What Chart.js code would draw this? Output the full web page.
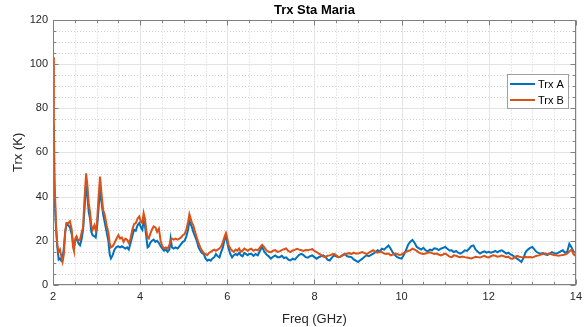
<!DOCTYPE html>
<html>
<head>
<meta charset="utf-8">
<script src="https://cdn.jsdelivr.net/npm/chart.js@4/dist/chart.umd.min.js"></script>
<style>
  html, body { margin: 0; padding: 0; background: #ffffff; }
  #wrap { width: 587px; height: 327px; position: relative; }
</style>
</head>
<body>
<div id="wrap"><canvas id="c" width="587" height="327"></canvas></div>
<script>
// ---------- data ----------
const freq = [
  2.00, 2.02, 2.04, 2.07, 2.10, 2.13, 2.16, 2.19, 2.22, 2.25, 2.28, 2.31, 2.35, 2.39, 2.43, 2.46, 2.48, 2.51, 2.54, 2.58,
  2.62, 2.66, 2.69, 2.72, 2.76, 2.79, 2.82, 2.85, 2.88, 2.91, 2.95, 2.98, 3.01, 3.04, 3.08, 3.11, 3.15, 3.19, 3.23, 3.27,
  3.30, 3.33, 3.37, 3.41, 3.46, 3.50, 3.54, 3.58, 3.62, 3.66, 3.70, 3.74, 3.78, 3.82, 3.86, 3.90, 3.94, 3.98, 4.02, 4.05,
  4.08, 4.11, 4.14, 4.17, 4.20, 4.23, 4.27, 4.31, 4.35, 4.39, 4.43, 4.47, 4.51, 4.55, 4.59, 4.63, 4.67, 4.70, 4.73, 4.77,
  4.81, 4.86, 4.90, 4.94, 4.98, 5.02, 5.06, 5.10, 5.13, 5.16, 5.19, 5.22, 5.26, 5.30, 5.34, 5.38, 5.42, 5.46, 5.50, 5.54,
  5.58, 5.62, 5.66, 5.70, 5.74, 5.78, 5.82, 5.86, 5.90, 5.94, 5.97, 6.00, 6.03, 6.07, 6.11, 6.15, 6.19, 6.23, 6.27, 6.31,
  6.35, 6.39, 6.43, 6.47,
  6.50, 6.55, 6.60, 6.65, 6.70, 6.75, 6.80, 6.85, 6.90, 6.95, 7.00, 7.05, 7.10, 7.15, 7.20, 7.25, 7.30, 7.35, 7.40, 7.45,
  7.50, 7.55, 7.60, 7.65, 7.70, 7.75, 7.80, 7.85, 7.90, 7.95, 8.00, 8.05, 8.10, 8.15, 8.20, 8.25, 8.30, 8.35, 8.40, 8.45,
  8.50, 8.55, 8.60, 8.65, 8.70, 8.75, 8.80, 8.85, 8.90, 8.95, 9.00, 9.05, 9.10, 9.15, 9.20, 9.25, 9.30, 9.35, 9.40, 9.45,
  9.50, 9.55, 9.60, 9.65, 9.70, 9.75, 9.80, 9.85, 9.90, 9.95, 10.00, 10.05, 10.10, 10.15, 10.20, 10.25, 10.30, 10.35, 10.40, 10.45,
  10.50, 10.55, 10.60, 10.65, 10.70, 10.75, 10.80, 10.85, 10.90, 10.95, 11.00, 11.05, 11.10, 11.15, 11.20, 11.25, 11.30, 11.35, 11.40, 11.45,
  11.50, 11.55, 11.60, 11.65, 11.70, 11.75, 11.80, 11.85, 11.90, 11.95, 12.00, 12.05, 12.10, 12.15, 12.20, 12.25, 12.30, 12.35, 12.40, 12.45,
  12.50, 12.55, 12.60, 12.65, 12.70, 12.75, 12.80, 12.85, 12.90, 12.95, 13.00, 13.05, 13.10, 13.15, 13.20, 13.25, 13.30, 13.35, 13.40, 13.45,
  13.50, 13.55, 13.60, 13.65, 13.70, 13.75, 13.80, 13.85, 13.90, 13.95, 14.00
];

const trxA = [
  72, 52, 38, 25, 17, 11.5, 12, 11, 12, 17, 24, 27.5, 27, 26, 23, 19, 17, 20, 21.5, 19,
  18, 21, 25, 33, 46.5, 40, 33, 30, 24, 22.5, 22, 21.5, 26, 33, 43.5, 38, 32, 28, 24, 20,
  14, 12, 13.5, 16, 17.2, 17.5, 17, 17.5, 17, 16.5, 17, 16, 19, 22, 25, 24.5, 27, 28, 26, 25,
  29, 27, 22, 17, 17.5, 19, 20, 20.5, 19.5, 20, 19, 17.5, 16.5, 15.5, 16, 15, 16, 21, 17, 16.5,
  17, 16.5, 17.5, 18.5, 19.5, 20, 22, 25, 29, 27.5, 26, 24, 22, 20, 17, 15.5, 14.5, 14, 12, 11,
  11.5, 11, 12, 12.5, 14, 13, 12.5, 15, 17, 21, 22, 19, 16.5, 14, 12.5, 13.5, 14, 13.5, 14.5, 13.5,
  13, 14.5, 14, 13.5,
  14.0, 14.1, 13.2, 14.0, 13.4, 15.5, 17.2, 15.0, 13.8, 13.0, 11.9, 12.8, 13.4, 12.6, 12.6, 13.2, 12.2, 12.5, 11.5, 11.1,
  11.9, 11.5, 12.6, 13.6, 14.1, 13.5, 12.6, 12.4, 13.0, 13.4, 12.6, 11.9, 12.6, 13.0, 13.4, 12.8, 11.5, 11.1, 12.4, 13.4,
  13.0, 12.6, 12.8, 13.6, 14.1, 13.0, 12.8, 12.6, 11.6, 11.0, 10.4, 11.2, 11.9, 12.8, 13.4, 13.0, 13.6, 14.2, 14.8, 15.7,
  15.2, 16.4, 16.0, 17.0, 17.9, 16.4, 14.6, 13.4, 12.6, 12.2, 11.9, 13.6, 15.7, 18.2, 19.6, 20.4, 19.0, 17.2, 16.6, 16.0,
  16.8, 15.7, 15.2, 16.0, 15.7, 16.6, 16.4, 15.8, 16.4, 16.8, 17.2, 16.4, 15.6, 15.7, 14.9, 15.4, 14.6, 14.2, 14.8, 15.7,
  15.4, 16.4, 17.6, 17.9, 16.0, 15.0, 14.2, 14.8, 15.2, 14.6, 15.0, 14.6, 14.9, 15.4, 14.8, 15.4, 15.7, 15.0, 14.2, 14.6,
  13.8, 13.4, 12.6, 11.9, 11.2, 10.4, 12.4, 15.0, 16.0, 16.8, 17.2, 16.0, 14.9, 14.4, 14.2, 14.4, 13.8, 13.6, 14.2, 14.9,
  14.4, 14.2, 14.6, 15.2, 15.7, 14.6, 14.9, 18.6, 17.0, 14.9, 14.6
];

const trxB = [
  103, 70, 45, 27, 18, 15, 16, 13, 10.5, 14, 24, 28, 28, 28.8, 25, 17, 15.5, 21, 22, 20,
  20.5, 24, 26, 38, 50.5, 45, 37, 33, 27, 25, 27, 24.5, 28, 38, 49, 42, 34, 31.5, 27, 24,
  19, 17, 17.5, 19, 21, 22.5, 21, 21.5, 19.5, 21, 20.5, 19, 21, 25, 27.5, 28, 30, 31, 28.5, 28,
  32.5, 30, 25, 21.5, 21, 23, 25, 26.5, 26, 24, 25.5, 20, 17.5, 16.5, 17, 16.5, 18, 20, 21, 20.5,
  21, 20.5, 21, 21.5, 22.5, 23, 25, 28.5, 32, 30, 28, 27, 24, 21.5, 19, 17, 15.5, 14.5, 14, 13.5,
  14.5, 15, 15.5, 16, 15.5, 16, 16.5, 17.5, 19.5, 22, 23.5, 21, 18, 16.5, 15.5, 15, 16, 15.5, 16.5, 15,
  15.5, 16.5, 16, 15.5,
  16.0, 16.4, 15.5, 16.0, 15.7, 17.0, 18.2, 17.0, 15.6, 15.0, 14.8, 15.5, 15.8, 15.0, 15.2, 15.8, 16.2, 16.5, 15.4, 14.9,
  15.6, 15.9, 16.4, 16.0, 15.7, 15.4, 15.8, 15.7, 16.0, 16.2, 15.4, 14.9, 14.2, 13.6, 12.8, 12.6, 13.2, 13.4, 13.8, 14.1,
  13.4, 12.6, 12.9, 13.4, 13.9, 14.2, 14.4, 14.0, 14.6, 14.2, 14.2, 14.6, 14.9, 14.4, 14.0, 14.6, 15.2, 15.7, 15.0, 14.6,
  15.0, 14.8, 14.2, 14.0, 14.2, 13.4, 13.8, 14.2, 14.0, 13.6, 13.8, 14.4, 15.0, 15.4, 15.7, 16.4, 16.0, 15.4, 14.6, 14.2,
  14.0, 14.2, 14.6, 14.8, 14.4, 14.0, 14.2, 13.8, 13.4, 13.8, 14.2, 13.6, 12.8, 12.6, 13.4, 13.2, 12.8, 12.6, 12.9, 12.6,
  12.4, 12.2, 12.0, 12.4, 12.8, 12.6, 12.4, 12.8, 13.2, 12.6, 12.5, 13.0, 13.4, 13.2, 12.8, 13.0, 13.3, 13.0, 12.6, 12.8,
  12.0, 11.9, 12.6, 13.2, 12.8, 12.6, 12.4, 12.6, 12.5, 12.6, 12.4, 12.8, 13.2, 13.4, 13.8, 14.0, 14.2, 14.0, 14.2, 13.8,
  13.6, 13.4, 13.2, 13.4, 13.6, 13.8, 14.2, 15.2, 16.0, 13.8, 13.2
];

const seriesLabels = ['Trx A', 'Trx B'];
const xTickValues = [2, 4, 6, 8, 10, 12, 14];
const yTickValues = [0, 20, 40, 60, 80, 100, 120];
const xMinorStep = 0.5;
const yMinorStep = 5;

// ---------- styling ----------
const FONT = '"Liberation Sans", Arial, Helvetica, sans-serif';
const COLORS = ['#0072BD', '#D95319'];
const AXIS_COLOR = '#262626';

const xMin = xTickValues[0], xMax = xTickValues[xTickValues.length - 1];
const yMin = yTickValues[0], yMax = yTickValues[yTickValues.length - 1];

function isMultiple(v, step) {
  const r = v / step;
  return Math.abs(r - Math.round(r)) < 1e-6;
}

const matlabPlugin = {
  id: 'matlabDecor',
  beforeDatasetsDraw(chart) {
    const { ctx, chartArea: ca, scales: { x, y } } = chart;
    ctx.save();
    ctx.lineWidth = 1;
    // minor dotted grid
    ctx.strokeStyle = '#d2d2d2';
    ctx.setLineDash([1, 2]);
    const majorXStep = xTickValues[1] - xTickValues[0];
    const majorYStep = yTickValues[1] - yTickValues[0];
    for (let v = xMin + xMinorStep; v < xMax - 1e-9; v += xMinorStep) {
      if (isMultiple(v - xMin, majorXStep)) continue;
      const px = Math.round(x.getPixelForValue(v)) + 0.5;
      ctx.beginPath(); ctx.moveTo(px, ca.top); ctx.lineTo(px, ca.bottom); ctx.stroke();
    }
    for (let v = yMin + yMinorStep; v < yMax - 1e-9; v += yMinorStep) {
      if (isMultiple(v - yMin, majorYStep)) continue;
      const py = Math.round(y.getPixelForValue(v)) + 0.5;
      ctx.beginPath(); ctx.moveTo(ca.left, py); ctx.lineTo(ca.right, py); ctx.stroke();
    }
    // major solid grid
    ctx.setLineDash([]);
    ctx.strokeStyle = '#e4e4e4';
    xTickValues.forEach(v => {
      const px = Math.round(x.getPixelForValue(v)) + 0.5;
      ctx.beginPath(); ctx.moveTo(px, ca.top); ctx.lineTo(px, ca.bottom); ctx.stroke();
    });
    yTickValues.forEach(v => {
      const py = Math.round(y.getPixelForValue(v)) + 0.5;
      ctx.beginPath(); ctx.moveTo(ca.left, py); ctx.lineTo(ca.right, py); ctx.stroke();
    });
    ctx.restore();
  },
  afterDatasetsDraw(chart) {
    const { ctx, chartArea: ca, scales: { x, y } } = chart;
    ctx.save();
    ctx.setLineDash([]);
    ctx.lineWidth = 1;
    ctx.strokeStyle = '#808080';
    const L = Math.round(ca.left) + 0.5, R = Math.round(ca.right) - 0.5;
    const T = Math.round(ca.top) + 0.5, B = Math.round(ca.bottom) - 0.5;
    // frame
    ctx.strokeRect(L, T, R - L, B - T);
    // tick marks (inward)
    const majLen = 5, minLen = 2.5;
    const majorXStep = xTickValues[1] - xTickValues[0];
    const majorYStep = yTickValues[1] - yTickValues[0];
    for (let v = xMin; v <= xMax + 1e-9; v += xMinorStep) {
      const len = isMultiple(v - xMin, majorXStep) ? majLen : minLen;
      const px = Math.round(x.getPixelForValue(v)) + 0.5;
      ctx.beginPath();
      ctx.moveTo(px, B); ctx.lineTo(px, B - len);
      ctx.moveTo(px, T); ctx.lineTo(px, T + len);
      ctx.stroke();
    }
    for (let v = yMin; v <= yMax + 1e-9; v += yMinorStep) {
      const len = isMultiple(v - yMin, majorYStep) ? majLen : minLen;
      const py = Math.round(y.getPixelForValue(v)) + 0.5;
      ctx.beginPath();
      ctx.moveTo(L, py); ctx.lineTo(L + len, py);
      ctx.moveTo(R, py); ctx.lineTo(R - len, py);
      ctx.stroke();
    }
    // legend
    const bx = 507.5, by = 74.5, bw = 61, bh = 34;
    ctx.fillStyle = '#ffffff';
    ctx.fillRect(bx, by, bw, bh);
    ctx.strokeStyle = '#a0a0a0';
    ctx.strokeRect(bx, by, bw, bh);
    ctx.font = '11px ' + FONT;
    ctx.textBaseline = 'middle';
    ctx.textAlign = 'left';
    chart.data.datasets.forEach((ds, i) => {
      const ly = 84 + i * 16;
      ctx.strokeStyle = ds.borderColor;
      ctx.lineWidth = 2;
      ctx.beginPath(); ctx.moveTo(510, ly); ctx.lineTo(535, ly); ctx.stroke();
      ctx.fillStyle = '#000000';
      ctx.fillText(ds.label, 538, ly + 0.5);
    });
    ctx.restore();
  }
};

const ctx = document.getElementById('c').getContext('2d');
new Chart(ctx, {
  type: 'line',
  data: {
    datasets: [
      {
        label: seriesLabels[0],
        data: freq.map((f, i) => ({ x: f, y: trxA[i] })),
        borderColor: COLORS[0],
        backgroundColor: COLORS[0],
        borderWidth: 2,
        pointRadius: 0,
        tension: 0,
        fill: false,
        order: 1
      },
      {
        label: seriesLabels[1],
        data: freq.map((f, i) => ({ x: f, y: trxB[i] })),
        borderColor: COLORS[1],
        backgroundColor: COLORS[1],
        borderWidth: 2,
        pointRadius: 0,
        tension: 0,
        fill: false,
        order: 0
      }
    ]
  },
  options: {
    responsive: false,
    animation: false,
    devicePixelRatio: 1,
    layout: { padding: { left: 0, right: 10, top: 0, bottom: 0 } },
    plugins: {
      legend: { display: false },
      tooltip: { enabled: false },
      title: {
        display: true,
        text: 'Trx Sta Maria',
        fullSize: false,
        color: '#000000',
        font: { family: FONT, size: 13, weight: 'bold' },
        padding: { top: 3, bottom: 1 }
      }
    },
    scales: {
      x: {
        type: 'linear',
        min: xMin,
        max: xMax,
        afterFit(scale) { scale.height = 42; },
        afterBuildTicks(scale) { scale.ticks = xTickValues.map(v => ({ value: v })); },
        ticks: {
          color: AXIS_COLOR,
          font: { family: FONT, size: 11 },
          padding: 5,
          maxRotation: 0,
          autoSkip: false
        },
        grid: { display: false, drawTicks: false },
        border: { display: false },
        title: {
          display: true,
          text: 'Freq (GHz)',
          color: AXIS_COLOR,
          font: { family: FONT, size: 13 },
          padding: { top: 4, bottom: 0 }
        }
      },
      y: {
        type: 'linear',
        min: yMin,
        max: yMax,
        afterFit(scale) { scale.width = 53; },
        afterBuildTicks(scale) { scale.ticks = yTickValues.map(v => ({ value: v })); },
        ticks: {
          color: AXIS_COLOR,
          font: { family: FONT, size: 11 },
          padding: 5,
          autoSkip: false
        },
        grid: { display: false, drawTicks: false },
        border: { display: false },
        title: {
          display: true,
          text: 'Trx (K)',
          color: AXIS_COLOR,
          font: { family: FONT, size: 13 },
          padding: { top: 11, bottom: 0 }
        }
      }
    }
  },
  plugins: [matlabPlugin]
});
</script>
</body>
</html>
